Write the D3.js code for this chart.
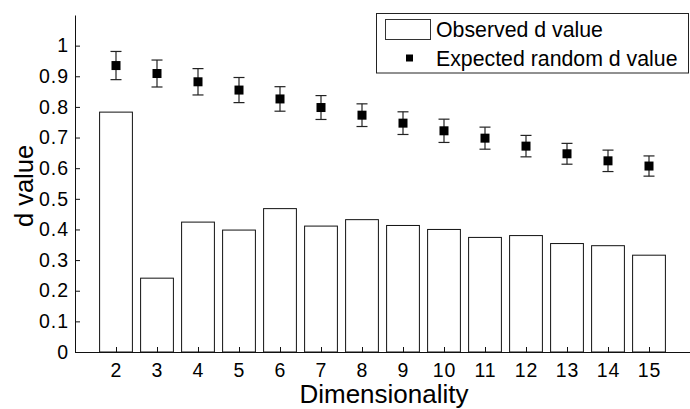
<!DOCTYPE html>
<html>
<head>
<meta charset="utf-8">
<script src="https://cdn.jsdelivr.net/npm/d3@7"></script>
<style>
  body { margin: 0; background: #fff; }
  svg { display: block; font-family: "Liberation Sans", Arial, sans-serif; }
</style>
</head>
<body>
<svg width="690" height="409"></svg>
<script>
// data
var dims = [2, 3, 4, 5, 6, 7, 8, 9, 10, 11, 12, 13, 14, 15];
var observed = [0.783, 0.241, 0.424, 0.398, 0.468, 0.411, 0.432, 0.413, 0.400, 0.374, 0.380, 0.354, 0.347, 0.316];
var expected = [0.935, 0.909, 0.882, 0.855, 0.826, 0.798, 0.773, 0.747, 0.722, 0.698, 0.672, 0.647, 0.624, 0.607];
var expErr = [0.046, 0.044, 0.043, 0.041, 0.040, 0.039, 0.037, 0.037, 0.038, 0.036, 0.035, 0.034, 0.035, 0.033];
var yTicks = [0, 0.1, 0.2, 0.3, 0.4, 0.5, 0.6, 0.7, 0.8, 0.9, 1];

var svg = d3.select("svg");

var x = d3.scaleLinear().domain([1, 16]).range([75, 690]);
var y = d3.scaleLinear().domain([0, 1.1]).range([352, 15]);
var barW = (x(2) - x(1)) * 0.8;

var rows = dims.map(function(d, i) {
  return { dim: d, obs: observed[i], exp: expected[i], err: expErr[i] };
});

// bars
svg.append("g").selectAll("rect")
  .data(rows)
  .enter().append("rect")
    .attr("x", function(d) { return x(d.dim) - barW / 2; })
    .attr("y", function(d) { return y(d.obs); })
    .attr("width", barW)
    .attr("height", function(d) { return y(0) - y(d.obs); })
    .attr("fill", "#fff")
    .attr("stroke", "#111")
    .attr("stroke-width", 1);

// error bars
var eb = svg.append("g").attr("stroke", "#222").attr("stroke-width", 1.2);
eb.selectAll("line.v")
  .data(rows)
  .enter().append("line")
    .attr("class", "v")
    .attr("x1", function(d) { return x(d.dim); })
    .attr("x2", function(d) { return x(d.dim); })
    .attr("y1", function(d) { return y(d.exp - d.err); })
    .attr("y2", function(d) { return y(d.exp + d.err); });
[-1, 1].forEach(function(s) {
  eb.selectAll("line.c" + (s + 1))
    .data(rows)
    .enter().append("line")
      .attr("x1", function(d) { return x(d.dim) - 5.5; })
      .attr("x2", function(d) { return x(d.dim) + 5.5; })
      .attr("y1", function(d) { return y(d.exp + s * d.err); })
      .attr("y2", function(d) { return y(d.exp + s * d.err); });
});

// markers
svg.append("g").selectAll("rect")
  .data(rows)
  .enter().append("rect")
    .attr("x", function(d) { return x(d.dim) - 4.5; })
    .attr("y", function(d) { return y(d.exp) - 4.5; })
    .attr("width", 9)
    .attr("height", 9)
    .attr("fill", "#000");

// axes, ticks inward like matlab
var yAxis = d3.axisLeft(y).tickValues(yTicks).tickSizeInner(-5).tickSizeOuter(0).tickPadding(6)
  .tickFormat(function(d) { return d3.format("~g")(d); });
var gy = svg.append("g").attr("transform", "translate(" + x(1) + ",0)").call(yAxis);

var xAxis = d3.axisBottom(x).tickValues(dims).tickSizeInner(-5).tickSizeOuter(0).tickPadding(11)
  .tickFormat(d3.format("d"));
var gx = svg.append("g").attr("transform", "translate(0," + y(0) + ")").call(xAxis);

[gx, gy].forEach(function(g) {
  g.select(".domain").attr("stroke", "#111");
  g.selectAll(".tick line").attr("stroke", "#111");
  g.selectAll(".tick text").attr("fill", "#000").style("font-size", "19.5px")
    .style("letter-spacing", "1px")
    .style("font-family", "'Liberation Sans', Arial, sans-serif");
});

svg.append("text")
  .attr("transform", "translate(33," + 186 + ") rotate(-90)")
  .attr("text-anchor", "middle")
  .style("font-size", "25.5px")
  .text("d value");

svg.append("text")
  .attr("x", 384)
  .attr("y", 402.5)
  .attr("text-anchor", "middle")
  .style("font-size", "26px")
  .text("Dimensionality");

// legend
var lg = svg.append("g");
lg.append("rect")
  .attr("x", 376.5).attr("y", 13.5).attr("width", 312).attr("height", 59.5)
  .attr("fill", "#fff").attr("stroke", "#222");
lg.append("rect")
  .attr("x", 385.5).attr("y", 19.5).attr("width", 45).attr("height", 20)
  .attr("fill", "#fff").attr("stroke", "#333");
lg.append("rect")
  .attr("x", 406).attr("y", 54.5).attr("width", 7).attr("height", 7)
  .attr("fill", "#000");
lg.append("text").attr("x", 436).attr("y", 37).style("font-size", "21.3px").text("Observed d value");
lg.append("text").attr("x", 436).attr("y", 66).style("font-size", "21.3px").text("Expected random d value");
</script>
</body>
</html>
